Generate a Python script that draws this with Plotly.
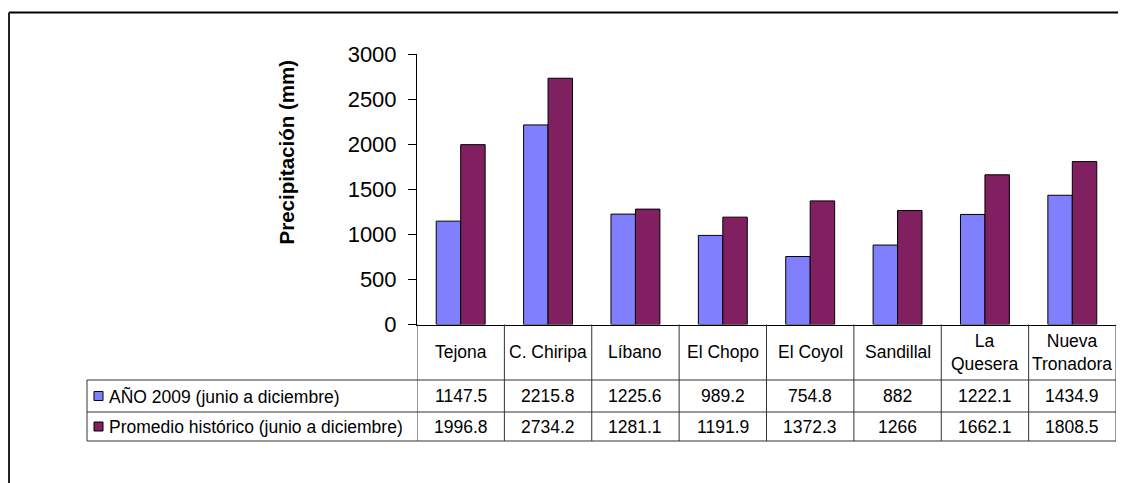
import plotly.graph_objects as go

estaciones = ["Tejona", "C. Chiripa", "Líbano", "El Chopo", "El Coyol",
              "Sandillal", "La<br>Quesera", "Nueva<br>Tronadora"]
serie_2009 = [1147.5, 2215.8, 1225.6, 989.2, 754.8, 882, 1222.1, 1434.9]
serie_hist = [1996.8, 2734.2, 1281.1, 1191.9, 1372.3, 1266, 1662.1, 1808.5]
nombres = ["AÑO 2009 (junio a diciembre)", "Promedio histórico (junio a diciembre)"]
colores = ["#8080FF", "#802060"]

W, H = 1126, 483
OFF = 8  # page body margin
FONT = "Liberation Sans, Arial, sans-serif"


def py(y):
    # screen pixel row -> paper y
    return 1 - (y - OFF) / H


def px(x):
    return (x - OFF) / W


x_idx = list(range(len(estaciones)))

fig = go.Figure()
for nombre, vals, col in zip(nombres, [serie_2009, serie_hist], colores):
    fig.add_trace(go.Bar(x=x_idx, y=vals, name=nombre,
                         marker=dict(color=col, line=dict(color="black", width=1))))

shapes = []
annots = []
linea = dict(color="#333333", width=1)

# outer chart border (runs off the picture right and bottom)
shapes.append(dict(type="line", xref="paper", yref="paper", x0=px(9), x1=1,
                   y0=py(12.5), y1=py(12.5), line=dict(color="black", width=2)))
shapes.append(dict(type="line", xref="paper", yref="paper", x0=px(9), x1=px(9),
                   y0=py(12.5), y1=0, line=dict(color="#222222", width=2)))

# data table grid
y_axis, y_r1, y_r2, y_r3 = 324.5, 380, 412, 441
for k in range(len(estaciones) + 1):
    shapes.append(dict(type="line", xref="x", yref="paper", x0=k - 0.5, x1=k - 0.5,
                       y0=py(y_axis), y1=py(y_r3), line=linea))
for yy in (y_r1, y_r2, y_r3):
    shapes.append(dict(type="line", xref="paper", yref="paper", x0=px(87), x1=px(1116),
                       y0=py(yy), y1=py(yy), line=linea))
shapes.append(dict(type="line", xref="paper", yref="paper", x0=px(87), x1=px(87),
                   y0=py(y_r1), y1=py(y_r3), line=linea))

# header row
for i, est in enumerate(estaciones):
    annots.append(dict(x=i, y=py((y_axis + y_r1) / 2), xref="x", yref="paper",
                       xanchor="center", yanchor="middle",
                       text=est, showarrow=False, font=dict(size=17.5)))

# value rows with legend keys
for fila, (nombre, vals, col) in enumerate(zip(nombres, [serie_2009, serie_hist], colores)):
    yc = (y_r1 + y_r2) / 2 if fila == 0 else (y_r2 + y_r3) / 2
    shapes.append(dict(type="rect", xref="paper", yref="paper",
                       x0=px(94), x1=px(103), y0=py(yc - 4.5), y1=py(yc + 4.5),
                       fillcolor=col, line=dict(color="black", width=1)))
    annots.append(dict(x=px(107), y=py(yc), xref="paper", yref="paper",
                       xanchor="left", yanchor="middle",
                       text=nombre, showarrow=False, font=dict(size=17.5)))
    for i, v in enumerate(vals):
        annots.append(dict(x=i, y=py(yc), xref="x", yref="paper",
                           xanchor="center", yanchor="middle",
                           text=f"{v:g}", showarrow=False, font=dict(size=17.5)))

# y axis title
annots.append(dict(x=px(285.5), y=py(152), xref="paper", yref="paper",
                   xanchor="center", yanchor="middle",
                   text="<b>Precipitación (mm)</b>", textangle=-90, showarrow=False,
                   font=dict(size=20.5)))

fig.update_layout(
    template="none",
    width=W, height=H,
    margin=dict(l=0, r=0, t=0, b=0, pad=0, autoexpand=False),
    paper_bgcolor="white", plot_bgcolor="white",
    font=dict(family=FONT, color="black"),
    showlegend=False,
    barmode="group", bargap=0.44, bargroupgap=0,
    xaxis=dict(domain=[px(417), px(1116)], range=[-0.5, len(estaciones) - 0.5],
               automargin=False,
               showticklabels=False, ticks="", showgrid=False, zeroline=False,
               showline=True, linecolor="black", linewidth=1),
    yaxis=dict(domain=[py(y_axis), py(54.3)], range=[0, 3000], dtick=500,
               automargin=False,
               showgrid=False, zeroline=False, showline=True, linecolor="black",
               linewidth=1, ticks="outside", ticklen=8, tickcolor="black",
               ticklabelstandoff=7, tickfont=dict(size=22)),
    shapes=shapes,
    annotations=annots,
)

fig.write_html("out.html")
